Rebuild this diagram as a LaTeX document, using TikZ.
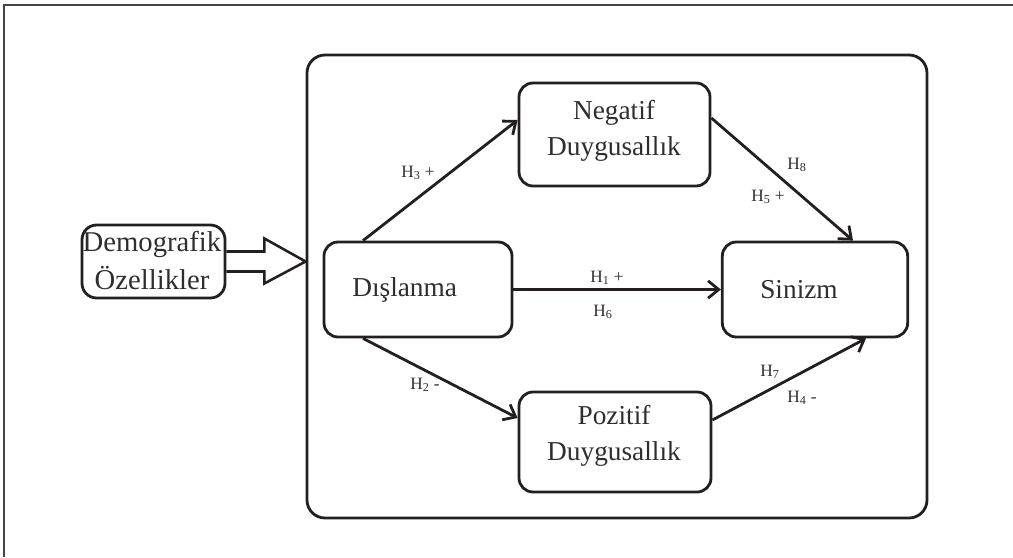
\documentclass[tikz,border=0pt]{standalone}
\usepackage{fontspec}
\setmainfont{Liberation Serif}
\usetikzlibrary{arrows.meta,calc}
\definecolor{ink}{HTML}{231F20}
\definecolor{txt}{HTML}{2E2E2E}
\definecolor{frame}{HTML}{444444}
\begin{document}
\begin{tikzpicture}[x=0.75pt,y=-0.75pt,
  box/.style={draw=ink, line width=2.1pt, rounded corners=10.5pt, inner sep=0pt},
  conn/.style={draw=ink, line width=2.1pt, -{Straight Barb[length=8pt,width=13pt]}},
  main/.style={font=\fontsize{20.5}{27}\selectfont, text=txt, align=center, inner sep=0pt},
  hlab/.style={font=\fontsize{13}{14}\selectfont, text=txt, inner sep=0pt}]
\useasboundingbox (0,0) rectangle (1013,557);
% frame
\draw[frame, line width=1.3pt] (4,557) -- (4,5) -- (1013,5);
% big container
\node[box, rounded corners=13.5pt, minimum width=465pt, minimum height=347.25pt] (big) at (617,286.5) {};
% boxes
\node[box, minimum width=141pt, minimum height=71.25pt] (d) at (418,289.5) {};
\node[main] (dt) at ([xshift=-10]d.center) {Dışlanma};
\node[box, minimum width=139pt, minimum height=71.25pt] (s) at (815,289.5) {};
\node[main] (st) at ([xshift=-12]s.center) {Sinizm};
\node[box, minimum width=143.25pt, minimum height=77.25pt] (n) at (614.5,134.5) {};
\node[main] (nt) at (614,131) {Negatif\\Duygusallık};
\node[box, minimum width=144pt, minimum height=75pt] (p) at (615,442) {};
\node[main] (pt) at (614,436) {Pozitif\\Duygusallık};
% demographic box
\node[box, rounded corners=11pt, minimum width=107.25pt, minimum height=54.75pt] (dem) at (153.5,261.5) {};
\node[main, font=\fontsize{21.5}{28.5}\selectfont] (demt) at (152,261) {Demografik\\Özellikler};
% hollow arrow
\coordinate (tip) at (big.west |- dem.east);
\draw[ink, line width=1.9pt, line join=miter]
  ($(dem.east)+(0,-10)$) -- ++(38,0) -- ++(0,-13) -- (tip)
  -- ($(dem.east)+(38,22)$) -- ++(0,-12) -- ($(dem.east)+(0,10)$);
% connectors
\draw[conn] ($(d.north)+(-55,0)$) -- ($(n.west)+(0,-14.5)$);
\draw[conn] ($(n.east)+(0,-16.5)$) -- ($(s.north)+(38,0)$);
\draw[conn] (d.east) -- (s.west);
\draw[conn] ($(d.south)+(-55,0)$) -- ($(p.west)+(0,-24)$);
\draw[conn] ($(p.east)+(0,-22)$) -- ($(s.south)+(51,0)$);
% labels
\node[hlab] (l3) at (418,173) {H\textsubscript{3} +};
\node[hlab] (l8) at (797,165) {H\textsubscript{8}};
\node[hlab] (l5) at (768,197) {H\textsubscript{5} +};
\node[hlab] (l1) at (607,278) {H\textsubscript{1} +};
\node[hlab] (l6) at (603,312) {H\textsubscript{6}};
\node[hlab] (l2) at (425,385) {H\textsubscript{2} -};
\node[hlab] (l7) at (770,372) {H\textsubscript{7}};
\node[hlab] (l4) at (802,398) {H\textsubscript{4} -};
\end{tikzpicture}
\end{document}
